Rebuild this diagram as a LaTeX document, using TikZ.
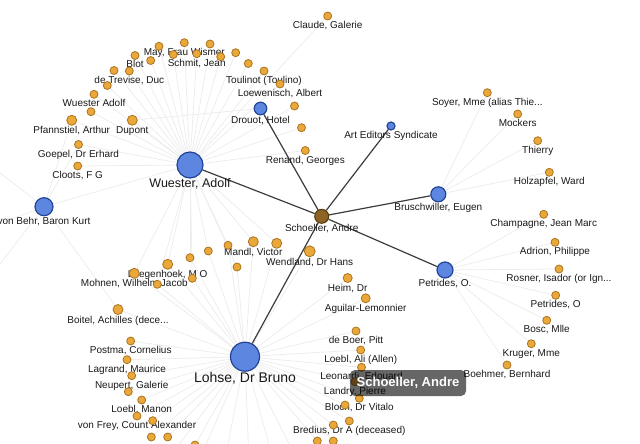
\documentclass[tikz,border=0pt]{standalone}
\usepackage{fontspec}
\setmainfont{Liberation Sans}
\usetikzlibrary{calc}
\pgfdeclarelayer{edges}
\pgfdeclarelayer{labels}
\pgfdeclarelayer{top}
\pgfsetlayers{edges,labels,main,top}
\definecolor{org}{RGB}{234,168,58}
\definecolor{orgd}{RGB}{170,115,30}
\definecolor{blu}{RGB}{92,134,224}
\definecolor{blud}{RGB}{35,68,150}
\definecolor{brn}{RGB}{140,100,38}
\definecolor{brnd}{RGB}{85,58,16}
\definecolor{liteg}{RGB}{237,237,237}
\definecolor{darkg}{RGB}{60,60,60}
\tikzset{
 odot/.style={circle, fill=org, draw=orgd, line width=0.8pt, inner sep=0},
 bdot/.style={circle, fill=blu, draw=blud, line width=1.2pt, inner sep=0},
 sdot/.style={circle, fill=brn, draw=brnd, line width=1pt, inner sep=0},
 lbl/.style={font=\fontsize{10}{12}\selectfont, text=black!90, inner sep=0, anchor=base},
 liteedge/.style={draw=liteg, line width=0.8pt},
 darkedge/.style={draw=darkg, line width=1.2pt},
 tipbox/.style={fill=black, fill opacity=0.6, text opacity=1, text=white, rounded corners=5pt,
   font=\fontsize{13}{15}\bfseries, minimum width=116, minimum height=26, inner sep=0}
}
\newcommand\gd[4]{\node[odot, minimum size={2*#4}] (#1) at (#2,#3) {};}
\newcommand\gl[6]{\node[#5, minimum size={2*#4}] (#1) at (#2,#3) {};
 \begin{pgfonlayer}{labels}\node[lbl] (#1-t) at ({#2},{#3+#4+8.5}) {#6};\end{pgfonlayer}}
\begin{document}
\begin{tikzpicture}[x=1pt,y=-1pt]
\useasboundingbox (0,0) rectangle (640,444);
\clip (0,0) rectangle (640,444);
% hubs
\node[bdot, minimum size=26] (wu) at (190,165) {};
\begin{pgfonlayer}{labels}\node[lbl, font=\fontsize{12.5}{14}\selectfont] (wu-t) at (190,187.5) {Wuester, Adolf};\end{pgfonlayer}
\node[bdot, minimum size=29] (lo) at (245,356.7) {};
\begin{pgfonlayer}{labels}\node[lbl, font=\fontsize{14}{16}\selectfont] (lo-t) at (245,382) {Lohse, Dr Bruno};\end{pgfonlayer}
\gl{vb}{44}{206.7}{9}{bdot}{von Behr, Baron Kurt}
\gl{dr}{260.5}{108.5}{6.3}{bdot}{Drouot, Hotel}
\gl{ae}{391}{126}{4}{bdot}{Art Editors Syndicate}
\gl{br}{438.3}{194.3}{7.5}{bdot}{Bruschwiller, Eugen}
\gl{pe}{445}{270}{8}{bdot}{Petrides, O.}
\gl{sc}{321.7}{216.3}{7}{sdot}{Schoeller, Andre}
% top arc
\gd{a1}{107.3}{85.5}{4}
\gd{a2}{114}{70.5}{4}
\gl{a3}{129.3}{71}{4}{odot}{de Trevise, Duc}
\gl{a4}{135}{55.5}{4}{odot}{Blot}
\gd{a5}{150.7}{60.5}{4}
\gd{a6}{159}{46.3}{4}
\gd{a7}{173.3}{54.5}{4}
\gl{a8}{184.3}{42.7}{4}{odot}{May, Frau Wismer}
\gl{a9}{196.7}{53.7}{4}{odot}{Schmit, Jean}
\gd{a10}{210}{44}{4}
\gd{a11}{220.7}{56.7}{4}
\gd{a12}{235.7}{52.7}{4}
\gd{a13}{248.3}{63.5}{4}
\gl{a14}{264}{71}{4}{odot}{Toulinot (Toulino)}
\gl{a15}{280}{84}{4}{odot}{Loewenisch, Albert}
\gd{a16}{294.5}{106}{4}
\gd{a17}{301.5}{127.7}{4}
\gl{a18}{305.3}{150.5}{4}{odot}{Renand, Georges}
\gl{a19}{327.7}{16}{4}{odot}{Claude, Galerie}
\gl{b1}{94}{94.3}{4}{odot}{Wuester Adolf}
\gd{b2}{91}{111.7}{4}
\gl{b3}{71.7}{120.3}{5}{odot}{Pfannstiel, Arthur}
\gl{b4}{132.3}{120.2}{5}{odot}{Dupont}
\gl{b5}{78.5}{144.5}{4}{odot}{Goepel, Dr Erhard}
\gl{b6}{77.7}{166}{4}{odot}{Cloots, F G}
% middle cluster
\gl{m1}{134.3}{273.3}{5}{odot}{Mohnen, Wilhelm Jacob}
\gd{m2}{157.3}{284.3}{4}
\gl{m3}{167.7}{264.3}{5}{odot}{Leegenhoek, M O}
\gd{m4}{190}{257.7}{4}
\gd{m5}{192.3}{278.3}{4}
\gd{m6}{208.3}{251}{4}
\gd{m7}{228}{245.3}{4}
\gd{m8}{237}{267}{4}
\gl{m9}{253.3}{241.7}{5}{odot}{Mandl, Victor}
\gd{m10}{276.7}{243.3}{5}
\gl{m11}{309.7}{251.3}{5.5}{odot}{Wendland, Dr Hans}
\gl{m12}{347.7}{278}{4.5}{odot}{Heim, Dr}
\gl{m13}{365.7}{298.3}{4.5}{odot}{Aguilar-Lemonnier}
% lower left
\gl{l1}{118}{309.5}{5}{odot}{Boitel, Achilles (dece...}
\gl{l2}{130.7}{341}{4}{odot}{Postma, Cornelius}
\gl{l3}{127}{359.7}{4}{odot}{Lagrand, Maurice}
\gl{l4}{131.7}{375.7}{4}{odot}{Neupert, Galerie}
\gd{l5}{128.3}{391.7}{4}
\gl{l6}{141.7}{400}{4}{odot}{Loebl, Manon}
\gl{l7}{137}{416}{4}{odot}{von Frey, Count Alexander}
\gd{l8}{152.7}{420.7}{4}
\gd{l9}{151.3}{437}{4}
\gd{l10}{167.7}{437}{4}
\gd{l11}{195}{445}{4}
% lower right
\gl{r1}{356}{331}{4}{odot}{de Boer, Pitt}
\gl{r2}{360.7}{350}{4}{odot}{Loebl, Ali (Allen)}
\gl{r3}{361.5}{367.3}{4}{odot}{Leonardi, Edouard}
\gl{r4}{355}{381.7}{4}{odot}{Landry, Pierre}
\gl{r5}{359.3}{398.3}{4}{odot}{Bloch, Dr Vitalo}
\gd{r6}{345}{405}{4}
\gl{r7}{349.3}{421}{4}{odot}{Bredius, Dr A (deceased)}
\gd{r8}{333.3}{425}{4}
\gd{r9}{317.3}{441}{4}
\gd{r10}{333.3}{441}{4}
% right
\gl{s1}{487.3}{92.7}{4}{odot}{Soyer, Mme (alias Thie...}
\gl{s2}{517.7}{114}{4}{odot}{Mockers}
\gl{s3}{537.7}{140.7}{4}{odot}{Thierry}
\gl{s4}{549.3}{172.3}{4}{odot}{Holzapfel, Ward}
\gl{p1}{543.7}{214.3}{4}{odot}{Champagne, Jean Marc}
\gl{p2}{555}{242.3}{4}{odot}{Adrion, Philippe}
\gl{p3}{559}{269}{4}{odot}{Rosner, Isador (or Ign...}
\gl{p4}{555.7}{295.3}{4}{odot}{Petrides, O}
\gl{p5}{546.7}{320.3}{4}{odot}{Bosc, Mlle}
\gl{p6}{531.3}{343.7}{4}{odot}{Kruger, Mme}
\gl{p7}{507}{365}{4}{odot}{Boehmer, Bernhard}
% off-canvas ends
\coordinate (ob1) at (160,470);
\coordinate (ob2) at (190,480);
\coordinate (ob3) at (220,485);
\coordinate (ob4) at (250,488);
\coordinate (ob5) at (280,485);
\coordinate (ob6) at (305,475);
\coordinate (ol1) at (-30,150);
\coordinate (ol2) at (-30,235);
\coordinate (ol3) at (-20,290);
\begin{pgfonlayer}{edges}
\foreach \n in {a1,a2,a3,a4,a5,a6,a7,a8,a9,a10,a11,a12,a13,a14,a15,a16,a17,a18,a19,b1,b2,b3,b4,b5,b6,m1,m2,m3,m4,m5,m6,m7,m8,m9,m10,vb}
  \draw[liteedge] (wu) -- (\n);
\foreach \n in {m1,m2,m3,m4,m5,m6,m7,m8,m9,m10,m11,m12,m13,l1,l2,l3,l4,l5,l6,l7,l8,l9,l10,l11,r1,r2,r3,r4,r5,r6,r7,r8,r9,r10,ob1,ob2,ob3,ob4,ob5,ob6}
  \draw[liteedge] (lo) -- (\n);
\foreach \n in {s1,s2,s3,s4}
  \draw[liteedge] (br) -- (\n);
\foreach \n in {p1,p2,p3,p4,p5,p6,p7}
  \draw[liteedge] (pe) -- (\n);
\foreach \n in {ol1,ol2,ol3,b3,b5,l1}
  \draw[liteedge] (vb) -- (\n);
\draw[liteedge] (dr) -- (b4);
\foreach \n in {wu,dr,ae,br,pe,lo}
  \draw[darkedge] (sc) -- (\n);
\end{pgfonlayer}
\begin{pgfonlayer}{top}
\node[tipbox] (tip) at (408,383) {Schoeller, Andre};
\end{pgfonlayer}
\end{tikzpicture}
\end{document}
